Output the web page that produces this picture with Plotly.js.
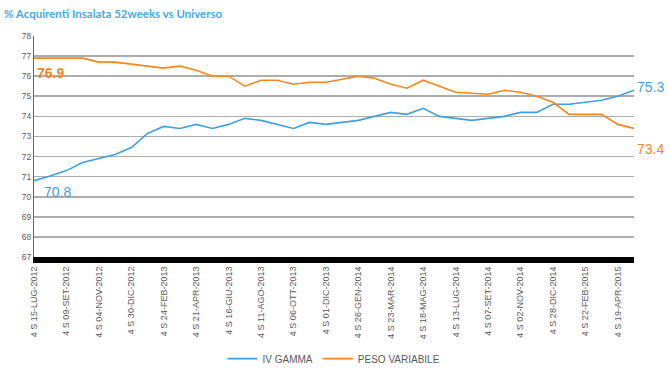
<!DOCTYPE html>
<html><head><meta charset="utf-8">
<script src="https://cdn.plot.ly/plotly-3.0.1.min.js"></script>
<style>html,body{margin:0;padding:0;background:#fff}#c{width:670px;height:369px}</style>
</head><body><div id="c"></div>
<script>
const periods = ["4 S 15-LUG-2012","4 S 12-AGO-2012","4 S 09-SET-2012","4 S 07-OTT-2012","4 S 04-NOV-2012","4 S 02-DIC-2012","4 S 30-DIC-2012","4 S 27-GEN-2013","4 S 24-FEB-2013","4 S 24-MAR-2013","4 S 21-APR-2013","4 S 19-MAG-2013","4 S 16-GIU-2013","4 S 14-LUG-2013","4 S 11-AGO-2013","4 S 08-SET-2013","4 S 06-OTT-2013","4 S 03-NOV-2013","4 S 01-DIC-2013","4 S 29-DIC-2013","4 S 26-GEN-2014","4 S 23-FEB-2014","4 S 23-MAR-2014","4 S 20-APR-2014","4 S 18-MAG-2014","4 S 15-GIU-2014","4 S 13-LUG-2014","4 S 10-AGO-2014","4 S 07-SET-2014","4 S 05-OTT-2014","4 S 02-NOV-2014","4 S 30-NOV-2014","4 S 28-DIC-2014","4 S 25-GEN-2015","4 S 22-FEB-2015","4 S 22-MAR-2015","4 S 19-APR-2015","4 S 17-MAG-2015"];
const ivGamma = [70.8,71.03,71.3,71.7,71.9,72.1,72.45,73.15,73.5,73.4,73.6,73.4,73.6,73.9,73.8,73.6,73.4,73.7,73.6,73.7,73.8,74.0,74.2,74.1,74.4,74.0,73.9,73.8,73.9,74.0,74.2,74.2,74.6,74.6,74.7,74.8,75.0,75.3];
const pesoVariabile = [76.9,76.9,76.9,76.9,76.7,76.7,76.6,76.5,76.4,76.5,76.3,76.0,76.0,75.5,75.8,75.8,75.6,75.7,75.7,75.85,76.0,75.9,75.6,75.4,75.8,75.5,75.2,75.15,75.1,75.3,75.2,75.0,74.7,74.1,74.1,74.1,73.6,73.4];
const seriesNames = ["IV GAMMA","PESO VARIABILE"];
const yTicks = [67,68,69,70,71,72,73,74,75,76,77,78];

const BLUE = "#3FA0DE", ORANGE = "#F7861E";
const xIdx = periods.map((_, i) => i);
const tickIdx = xIdx.filter(i => i % 2 === 0);
const last = periods.length - 1;

const traces = [
  {x: xIdx, y: ivGamma, name: seriesNames[0], type: "scatter", mode: "lines", line: {color: BLUE, width: 1.6}},
  {x: xIdx, y: pesoVariabile, name: seriesNames[1], type: "scatter", mode: "lines", line: {color: ORANGE, width: 1.6}}
];

const layout = {
  width: 670, height: 369,
  margin: {l: 34, r: 36, t: 36, b: 112, autoexpand: false},
  paper_bgcolor: "#fff", plot_bgcolor: "#fff",
  title: {text: "<b>% Acquirenti Insalata 52weeks vs Universo</b>", x: 0.006, xanchor: "left", y: 0.972, yanchor: "top",
          font: {family: "Lato, 'Open Sans', sans-serif", size: 11.5, color: "#4AA8E2"}},
  showlegend: true,
  legend: {orientation: "h", x: 0.5, xanchor: "center", y: -0.46, yanchor: "middle",
           font: {family: "'Liberation Sans', Arial, sans-serif", size: 10, color: "#595959"}, itemwidth: 30, tracegroupgap: 0},
  xaxis: {
    range: [0, last], tickmode: "array", tickvals: tickIdx, ticktext: tickIdx.map(i => periods[i]),
    tickangle: -90, showgrid: false, zeroline: false, ticks: "", automargin: false,
    showline: true, linecolor: "#000", linewidth: 6,
    tickfont: {family: "'Liberation Sans', Arial, sans-serif", size: 9, color: "#595959"}
  },
  yaxis: {
    range: [67, 78], tickmode: "array", tickvals: yTicks, ticktext: yTicks.map(String), automargin: false,
    showgrid: true, gridcolor: "#ADADAD", gridwidth: 1.6, zeroline: false,
    showline: true, linecolor: "#666", linewidth: 1, ticks: "",
    tickfont: {family: "'Liberation Sans', Arial, sans-serif", size: 8.5, color: "#595959"}
  },
  annotations: [
    {x: 0, y: pesoVariabile[0], text: "<b>" + pesoVariabile[0].toFixed(1) + "</b>", showarrow: false, xanchor: "left", yanchor: "top", xshift: 1, yshift: -5,
     font: {family: "'Liberation Sans', Arial, sans-serif", size: 14, color: ORANGE}},
    {x: 0, y: ivGamma[0], text: ivGamma[0].toFixed(1), showarrow: false, xanchor: "left", yanchor: "top", xshift: 8, yshift: -1,
     font: {family: "'Liberation Sans', Arial, sans-serif", size: 14, color: BLUE}},
    {x: last, y: ivGamma[last], text: ivGamma[last].toFixed(1), showarrow: false, xanchor: "left", yanchor: "middle", xshift: 1, yshift: 3,
     font: {family: "'Liberation Sans', Arial, sans-serif", size: 14, color: BLUE}},
    {x: last, y: pesoVariabile[last], text: pesoVariabile[last].toFixed(1), showarrow: false, xanchor: "left", yanchor: "top", xshift: 1, yshift: -11,
     font: {family: "'Liberation Sans', Arial, sans-serif", size: 14, color: ORANGE}}
  ]
};

Plotly.newPlot("c", traces, layout, {displayModeBar: false, staticPlot: true});
</script></body></html>
